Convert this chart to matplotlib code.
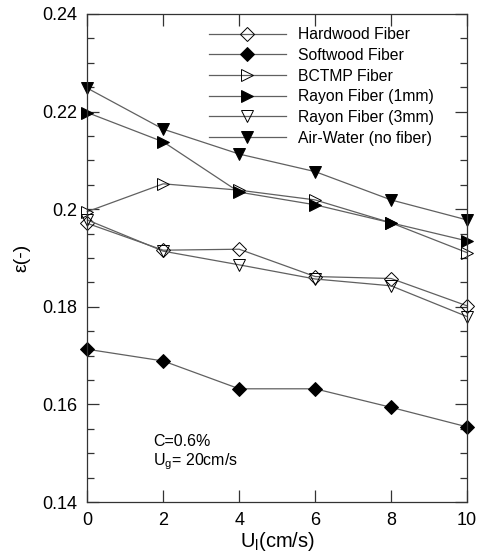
import numpy as np
import matplotlib
matplotlib.use("Agg")
import matplotlib.pyplot as plt
from matplotlib.ticker import MultipleLocator, FuncFormatter

plt.rcParams['font.family'] = ['Liberation Sans', 'DejaVu Sans']
plt.rcParams['mathtext.fontset'] = 'custom'
plt.rcParams['mathtext.rm'] = 'Liberation Sans'
plt.rcParams['mathtext.it'] = 'Liberation Sans'

# -------------------------------
# Data
# -------------------------------
ul = [0, 2, 4, 6, 8, 10]

hardwood = [0.1971, 0.1916, 0.1918, 0.1862, 0.1858, 0.1802]
softwood = [0.1713, 0.1689, 0.1632, 0.1632, 0.1594, 0.1554]
bctmp = [0.1995, 0.2052, 0.2039, 0.2019, 0.1972, 0.1911]
rayon_1mm = [0.2198, 0.2138, 0.2035, 0.2009, 0.1972, 0.1935]
rayon_3mm = [0.1978, 0.1914, 0.1886, 0.1857, 0.1843, 0.1780]
air_water = [0.2248, 0.2164, 0.2113, 0.2077, 0.2019, 0.1978]

labels = ["Hardwood Fiber", "Softwood Fiber", "BCTMP Fiber",
          "Rayon Fiber (1mm)", "Rayon Fiber (3mm)", "Air-Water (no fiber)"]
series = [hardwood, softwood, bctmp, rayon_1mm, rayon_3mm, air_water]
markers = ["D", "D", ">", ">", "v", "v"]
filled = [False, True, False, True, False, True]
sizes = [7, 7, 8, 8, 8, 8]

# -------------------------------
# Plot
# -------------------------------
fig = plt.figure(figsize=(4.81, 5.57), dpi=100)
ax = fig.add_axes([0.1815, 0.0987, 0.971 - 0.1815, 0.9749 - 0.0987])

for y, lab, m, f, s in zip(series, labels, markers, filled, sizes):
    ax.plot(ul, y, color="#606060", linewidth=0.9, marker=m, markersize=s,
            markerfacecolor="black" if f else "none",
            markeredgecolor="black", markeredgewidth=0.7, label=lab,
            clip_on=False)

ax.set_xlim(0, 10)
ax.set_ylim(0.14, 0.24)
ax.xaxis.set_major_locator(MultipleLocator(2))
ax.yaxis.set_major_locator(MultipleLocator(0.02))
ax.yaxis.set_minor_locator(MultipleLocator(0.005))
ax.yaxis.set_major_formatter(FuncFormatter(lambda v, p: "%g" % round(v, 3)))

ax.tick_params(which="both", direction="in", top=True, right=True,
               labelsize=13, width=0.9, color="#333333")
ax.tick_params(which="major", length=8.5)
ax.tick_params(which="minor", length=5)
ax.tick_params(axis="y", which="major", pad=7)
ax.tick_params(axis="x", which="major", pad=7)
for sp in ax.spines.values():
    sp.set_linewidth(0.9)
    sp.set_color("#333333")

ax.set_xlabel(r"U$_\mathregular{l}$(cm/s)", fontsize=14.5, labelpad=1)
ax.set_ylabel("ε(-)", fontsize=14, labelpad=9)

ax.text(1.73, 0.1525, "C=0.6%", fontsize=11.5, va="center")
ax.text(1.73, 0.1482, r"U$_\mathregular{g}$= 20cm/s", fontsize=11.5, va="center")

ax.legend(loc="upper left", bbox_to_anchor=(0.4345, 0.951),
          bbox_transform=fig.transFigure, frameon=False, fontsize=11.3,
          handlelength=4.9, handletextpad=0.8, labelspacing=0.36,
          borderpad=0, borderaxespad=0)

fig.savefig("out.png", dpi=100)
